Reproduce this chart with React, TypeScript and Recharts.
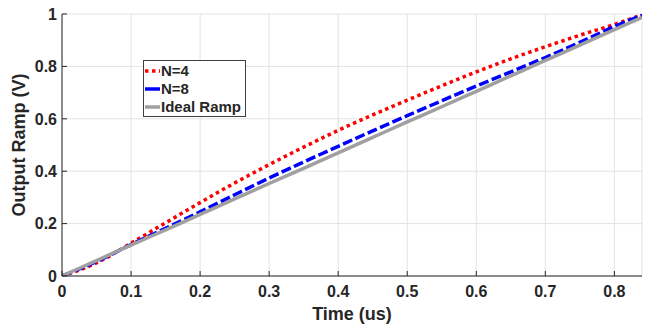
import React from 'react';
import { LineChart, Line, XAxis, YAxis, CartesianGrid } from 'recharts';

const timeUs = [0, 0.05, 0.1, 0.15, 0.2, 0.25, 0.3, 0.35, 0.4, 0.45, 0.5, 0.55, 0.6, 0.65, 0.7, 0.75, 0.8, 0.84];
const rampN4 = [0, 0.05, 0.125, 0.203, 0.28, 0.355, 0.425, 0.492, 0.556, 0.615, 0.671, 0.726, 0.779, 0.829, 0.875, 0.919, 0.96, 0.997];
const rampN8 = [0, 0.055, 0.12, 0.182, 0.245, 0.31, 0.374, 0.435, 0.495, 0.554, 0.612, 0.669, 0.725, 0.779, 0.834, 0.892, 0.952, 0.995];
const rampIdeal = [0, 0.059, 0.118, 0.176, 0.235, 0.294, 0.353, 0.411, 0.47, 0.529, 0.588, 0.646, 0.705, 0.764, 0.823, 0.881, 0.94, 0.987];

const xTicks = [0, 0.1, 0.2, 0.3, 0.4, 0.5, 0.6, 0.7, 0.8];
const yTicks = [0, 0.2, 0.4, 0.6, 0.8, 1];

const legendItems = [
  { name: 'N=4', color: '#ff0000', dash: '3.5 3.5' },
  { name: 'N=8', color: '#0000ff', dash: undefined },
  { name: 'Ideal Ramp', color: '#a0a0a0', dash: undefined },
];

const data = timeUs.map((t, i) => ({ t, n4: rampN4[i], n8: rampN8[i], ideal: rampIdeal[i] }));

const FONT = '"Liberation Sans", Arial, Helvetica, sans-serif';
const AXIS = '#262626';

const BottomTick = ({ x, y, payload }: any) => (
  <g>
    <line x1={x} y1={y} x2={x} y2={y - 5} stroke={AXIS} />
    <text x={x} y={y + 21} textAnchor="middle" fill={AXIS} fontSize={16} fontWeight="bold" fontFamily={FONT}>
      {String(payload.value)}
    </text>
  </g>
);

const TopTick = ({ x, y }: any) => <line x1={x} y1={y} x2={x} y2={y + 5} stroke={AXIS} />;

const LeftTick = ({ x, y, payload }: any) => (
  <g>
    <line x1={x} y1={y} x2={x + 5} y2={y} stroke={AXIS} />
    <text x={x - 5} y={y} dy="0.36em" textAnchor="end" fill={AXIS} fontSize={16} fontWeight="bold" fontFamily={FONT}>
      {String(payload.value)}
    </text>
  </g>
);

const RightTick = ({ x, y }: any) => <line x1={x} y1={y} x2={x - 5} y2={y} stroke={AXIS} />;

export default function App() {
  return (
    <div style={{ position: 'absolute', left: 0, top: 0, width: 655, height: 326, background: '#fff' }}>
      <LineChart width={655} height={326} data={data} margin={{ top: 14, right: 13, bottom: 0, left: 0 }}>
        <CartesianGrid stroke="#e3e3e3" />
        <XAxis
          dataKey="t"
          type="number"
          domain={[0, 0.84]}
          ticks={xTicks}
          allowDataOverflow
          height={50}
          tickSize={0}
          tickMargin={0}
          stroke={AXIS}
          tick={<BottomTick />}
          label={{ value: 'Time (us)', position: 'insideBottom', offset: 6, fill: AXIS, fontSize: 18, fontWeight: 'bold', fontFamily: FONT }}
        />
        <XAxis
          xAxisId="top"
          orientation="top"
          dataKey="t"
          type="number"
          domain={[0, 0.84]}
          ticks={xTicks}
          allowDataOverflow
          height={0}
          tickSize={0}
          tickMargin={0}
          stroke={AXIS}
          tick={<TopTick />}
        />
        <YAxis
          type="number"
          domain={[0, 1]}
          ticks={yTicks}
          allowDataOverflow
          width={62}
          tickSize={0}
          tickMargin={0}
          stroke={AXIS}
          tick={<LeftTick />}
          label={{ value: 'Output Ramp (V)', angle: -90, position: 'insideLeft', offset: 19, style: { textAnchor: 'middle' }, fill: AXIS, fontSize: 18, fontWeight: 'bold', fontFamily: FONT }}
        />
        <YAxis
          yAxisId="right"
          orientation="right"
          type="number"
          domain={[0, 1]}
          ticks={yTicks}
          allowDataOverflow
          width={0}
          tickSize={0}
          tickMargin={0}
          stroke={AXIS}
          tick={<RightTick />}
        />
        <Line type="monotone" dataKey="n4" stroke="#ff0000" strokeWidth={3.5} strokeDasharray="3.5 3.5" dot={false} isAnimationActive={false} />
        <Line type="monotone" dataKey="n8" stroke="#0000ff" strokeWidth={3.5} strokeDasharray="10 3.5" dot={false} isAnimationActive={false} />
        <Line type="monotone" dataKey="ideal" stroke="#a0a0a0" strokeWidth={3.5} dot={false} isAnimationActive={false} />
      </LineChart>
      <div
        style={{
          position: 'absolute',
          left: 143,
          top: 60,
          width: 101,
          height: 54,
          paddingTop: 1,
          boxSizing: 'content-box',
          border: '1px solid #404040',
          background: '#fff',
          fontFamily: FONT,
          fontWeight: 'bold',
          fontSize: 15,
          color: AXIS,
        }}
      >
        {legendItems.map((item) => (
          <div key={item.name} style={{ display: 'flex', alignItems: 'center', height: 18 }}>
            <svg width={17} height={18} style={{ display: 'block' }}>
              <line x1={1} y1={9} x2={16} y2={9} stroke={item.color} strokeWidth={3.5} strokeDasharray={item.dash} />
            </svg>
            <span style={{ lineHeight: '18px' }}>{item.name}</span>
          </div>
        ))}
      </div>
    </div>
  );
}
